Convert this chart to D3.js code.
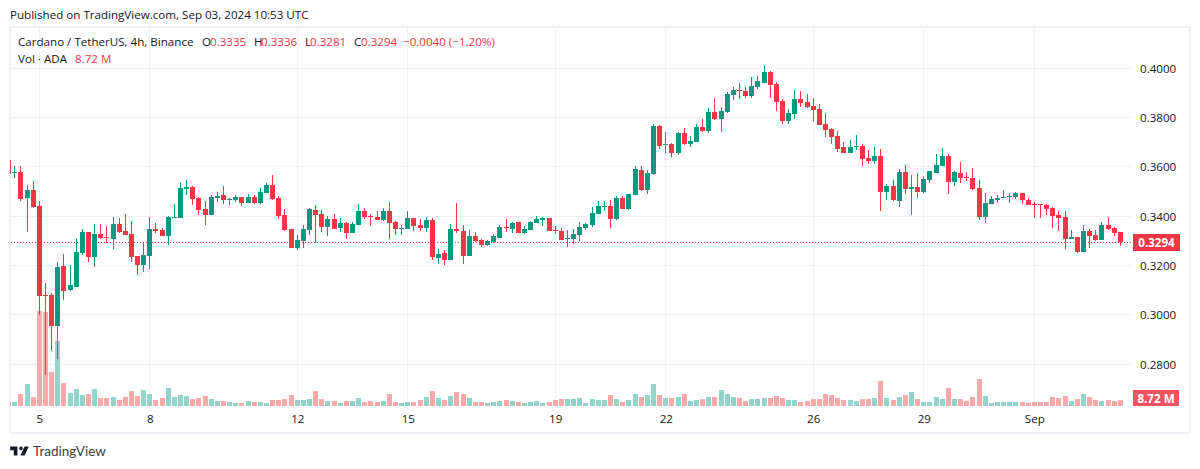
<!DOCTYPE html>
<html><head><meta charset="utf-8">
<script src="https://cdn.jsdelivr.net/npm/d3@7"></script>
<style>html,body{margin:0;padding:0;background:#fff}svg{display:block}text{font-family:"Open Sans","Noto Sans",sans-serif}</style>
</head><body><svg id="c" width="1200" height="469"></svg>
<script>
const firstIndex=-5;
const opens=[.3629,.3576,.3580,.3474,.3507,.3442,.3081,.3081,.2955,.3199,.3101,.3113,.3251,.3337,.3235,.3328,.3316,.3308,.3369,.3341,.3328,.3239,.3203,.3239,.3349,.3345,.3320,.3393,.3393,.3511,.3519,.3474,.3430,.3405,.3474,.3486,.3466,.3466,.3478,.3454,.3478,.3454,.3495,.3527,.3474,.3405,.3349,
.3272,.3300,.3344,.3426,.3409,.3357,.3389,.3353,.3373,.3332,.3365,.3421,.3401,.3397,.3385,.3421,.3377,.3349,.3349,.3393,.3365,.3353,.3385,.3231,.3251,.3223,.3349,.3340,.3239,.3320,.3304,.3284,.3296,.3312,.3357,.3349,.3377,.3332,.3344,.3373,.3385,.3393,.3344,.3340,.3308,.3308,
.3324,.3352,.3365,.3409,.3438,.3442,.3389,.3474,.3430,.3486,.3588,.3507,.3571,.3766,.3689,.3693,.3657,.3738,.3693,.3701,.3762,.3746,.3823,.3794,.3823,.3892,.3912,.3908,.3888,.3924,.3940,.3985,.3936,.3867,.3786,.3815,.3875,.3863,.3847,.3835,.3774,.3754,.3725,.3681,.3657,.3681,
.3685,.3636,.3624,.3644,.3499,.3523,.3462,.3580,.3511,.3519,.3499,.3547,.3576,.3604,.3644,.3539,.3576,.3559,.3555,.3515,.3397,.3450,.3466,.3474,.3478,.3478,.3495,.3466,.3450,.3450,.3446,.3434,.3405,.3397,.3308,.3316,.3255,.3341,.3324,.3304,.3365,.3353,.3335];
const highs=[.3629,.3604,.3604,.3527,.3543,.3462,.3130,.3089,.3215,.3247,.3202,.3308,.3349,.3337,.3369,.3369,.3361,.3397,.3393,.3409,.3381,.3239,.3296,.3397,.3373,.3353,.3401,.3450,.3535,.3547,.3523,.3478,.3462,.3486,.3498,.3523,.3474,.3486,.3478,.3490,.3486,.3515,.3535,.3567,.3482,.3430,.3349,
.3324,.3365,.3434,.3446,.3426,.3401,.3409,.3393,.3377,.3377,.3450,.3434,.3409,.3421,.3434,.3458,.3381,.3365,.3421,.3393,.3389,.3397,.3393,.3267,.3263,.3369,.3454,.3365,.3344,.3336,.3308,.3304,.3328,.3365,.3389,.3377,.3377,.3361,.3381,.3401,.3397,.3393,.3361,.3353,.3344,.3349,
.3377,.3373,.3438,.3462,.3462,.3466,.3482,.3482,.3490,.3604,.3604,.3588,.3774,.3770,.3742,.3697,.3742,.3758,.3725,.3774,.3794,.3839,.3880,.3843,.3904,.3924,.3940,.3924,.3965,.3969,.4013,.3989,.3944,.3875,.3835,.3912,.3908,.3896,.3880,.3855,.3819,.3758,.3746,.3701,.3709,.3730,
.3693,.3669,.3681,.3673,.3531,.3547,.3592,.3608,.3568,.3576,.3563,.3584,.3653,.3677,.3653,.3584,.3620,.3580,.3596,.3547,.3495,.3482,.3486,.3507,.3495,.3499,.3495,.3474,.3458,.3450,.3450,.3438,.3422,.3422,.3345,.3316,.3365,.3349,.3345,.3377,.3397,.3357,.3336];
const lows=[.3572,.3555,.3462,.3337,.3434,.3000,.2757,.2854,.2821,.3061,.3097,.3113,.3243,.3215,.3195,.3308,.3292,.3268,.3332,.3324,.3215,.3162,.3174,.3187,.3332,.3320,.3284,.3393,.3393,.3486,.3446,.3405,.3365,.3405,.3458,.3450,.3446,.3458,.3442,.3454,.3450,.3450,.3495,.3466,.3389,.3341,.3272,
.3264,.3271,.3324,.3292,.3336,.3320,.3349,.3336,.3308,.3332,.3365,.3389,.3361,.3385,.3381,.3308,.3324,.3324,.3349,.3340,.3340,.3336,.3223,.3207,.3203,.3223,.3332,.3207,.3239,.3296,.3276,.3280,.3292,.3312,.3336,.3332,.3332,.3328,.3344,.3373,.3361,.3340,.3328,.3304,.3276,.3288,
.3300,.3344,.3357,.3409,.3421,.3352,.3385,.3430,.3425,.3486,.3503,.3490,.3567,.3673,.3657,.3640,.3649,.3689,.3681,.3701,.3742,.3738,.3790,.3742,.3819,.3871,.3875,.3880,.3880,.3916,.3940,.3880,.3827,.3774,.3774,.3794,.3843,.3839,.3786,.3770,.3721,.3693,.3661,.3657,.3657,.3669,
.3604,.3612,.3612,.3422,.3466,.3462,.3438,.3490,.3405,.3474,.3495,.3535,.3576,.3604,.3490,.3523,.3535,.3543,.3507,.3385,.3373,.3450,.3454,.3474,.3454,.3470,.3450,.3446,.3393,.3393,.3405,.3353,.3340,.3268,.3308,.3251,.3255,.3272,.3300,.3304,.3345,.3320,.3281];
const closes=[.3572,.3580,.3470,.3507,.3438,.3077,.3077,.2955,.3195,.3097,.3122,.3255,.3337,.3235,.3328,.3312,.3312,.3369,.3337,.3324,.3235,.3203,.3243,.3349,.3341,.3320,.3397,.3397,.3515,.3519,.3470,.3426,.3405,.3478,.3482,.3466,.3470,.3478,.3454,.3478,.3454,.3499,.3527,.3470,.3401,.3345,.3272,
.3304,.3349,.3430,.3405,.3357,.3389,.3349,.3373,.3332,.3369,.3421,.3397,.3397,.3385,.3421,.3373,.3349,.3353,.3393,.3361,.3353,.3385,.3235,.3247,.3223,.3349,.3340,.3239,.3320,.3300,.3284,.3300,.3320,.3357,.3353,.3373,.3332,.3349,.3377,.3389,.3393,.3340,.3340,.3304,.3312,.3328,
.3357,.3369,.3413,.3442,.3442,.3389,.3474,.3430,.3490,.3592,.3507,.3575,.3766,.3685,.3693,.3657,.3738,.3693,.3705,.3762,.3746,.3823,.3794,.3827,.3896,.3912,.3908,.3888,.3928,.3948,.3985,.3932,.3863,.3786,.3819,.3875,.3859,.3843,.3831,.3770,.3750,.3721,.3673,.3657,.3681,.3685,
.3632,.3624,.3644,.3499,.3523,.3466,.3580,.3511,.3519,.3499,.3551,.3584,.3608,.3644,.3539,.3580,.3555,.3555,.3511,.3397,.3454,.3470,.3474,.3478,.3482,.3495,.3466,.3446,.3446,.3446,.3430,.3401,.3393,.3308,.3316,.3255,.3341,.3320,.3304,.3365,.3349,.3332,.3294];
const volumes=[6.2,6.2,18.5,33.9,13.9,146,144.7,52.3,100,35.4,20,26.2,16.9,18.5,26.2,12.3,12.3,13.9,9.2,13.9,23.1,15.4,24.6,18.5,9.2,12.3,27.7,13.9,16.9,15.4,10.8,12.3,15.4,10.8,7.7,7.7,6.2,4.6,4.6,7.7,6.2,6.2,4.6,9.2,9.2,10.8,16.9,9.2,
9.2,10.8,23.1,10.8,7.7,7.7,4.6,7.7,7.7,12.3,6.2,7.7,6.2,7.7,18.5,6.2,4.6,6.2,6.2,9.2,13.9,23.1,12.3,9.2,15.4,21.5,18.5,12.3,6.2,6.2,4.6,6.2,7.7,9.2,7.7,6.2,4.6,6.2,7.7,4.6,6.2,9.2,10.8,10.8,10.8,12.3,4.6,10.8,9.2,9.2,16.9,10.8,6.2,9.2,18.5,13.9,16.9,33.9,16.9,12.3,12.3,13.9,18.5,7.7,9.2,10.8,13.9,13.9,24.6,18.5,13.9,12.3,7.7,
10.8,10.8,12.3,12.3,15.4,12.3,9.2,9.2,6.2,7.7,10.8,10.8,18.5,16.9,12.3,9.2,9.2,7.7,10.8,10.8,12.3,38.5,12.3,9.2,13.9,16.9,21.5,10.8,6.2,6.2,13.9,10.8,27.7,10.8,10.8,7.7,13.9,41.6,15.4,4.6,6.2,6.2,6.2,6.2,6.2,4.6,6.2,6.2,6.2,13.9,12.3,15.4,7.7,10.8,18.5,13.9,9.2,7.7,9.2,7.7,8.72];
const priceTicks=[0.28,0.30,0.32,0.34,0.36,0.38,0.40];
const timeTickIndex=[0,18,42,60,84,102,126,144,162];
const timeTickLabels=["5","8","12","15","19","22","26","29","Sep"];
const legendMain="Cardano / TetherUS, 4h, Binance";
const ohlcLabels=["O","H","L","C"];
const ohlcValues=["0.3335","0.3336","0.3281","0.3294"];
const lastPrice=0.3294, lastVolume=8.72;
const UP="#089981",DOWN="#F23645",UPV="#92d3ca",DOWNV="#f9a9a9",GRID="#f1f2f5",FRAME="#eff1f7",INK="#131722",FS=11.6;
const FF='"Open Sans","Noto Sans",sans-serif';

const svg=d3.select("#c");
const x=d3.scaleLinear().domain([0,176]).range([39.3,1120.3]);
const y=d3.scaleLinear().domain([0.28,0.40]).range([364.3,68.3]);
const v=d3.scaleLinear().domain([0,146]).range([406,311]);
const data=opens.map((o,k)=>({i:k+firstIndex,o,h:highs[k],l:lows[k],c:closes[k],v:volumes[k]}));
const px=i=>Math.floor(x(i));
const py=p=>Math.round(y(p));

svg.append("defs").append("clipPath").attr("id","pane").append("rect").attr("x",10).attr("y",28).attr("width",1122).attr("height",379);
svg.append("text").attr("x",10).attr("y",19).attr("font-size",FS).attr("fill",INK).text("Published on TradingView.com, Sep 03, 2024 10:53 UTC");
svg.append("rect").attr("x",10).attr("y",27).attr("width",1180).attr("height",406).attr("fill","none").attr("stroke",FRAME).attr("stroke-width",2);

// grid drawn by axes, snapped to whole pixels
const gridY=svg.append("g").attr("transform","translate(11,0)").call(d3.axisRight(y).tickValues(priceTicks).tickSize(1121).tickFormat(""));
gridY.select(".domain").remove();gridY.selectAll(".tick").attr("transform",d=>`translate(0,${Math.floor(y(d))+.5})`);gridY.selectAll("line").attr("stroke",GRID);
const gridX=svg.append("g").attr("transform","translate(0,407)").call(d3.axisTop(x).tickValues(timeTickIndex).tickSize(379).tickFormat(""));
gridX.select(".domain").remove();gridX.selectAll(".tick").attr("transform",d=>`translate(${px(d)+.5},0)`);gridX.selectAll("line").attr("stroke",GRID);

const pane=svg.append("g").attr("clip-path","url(#pane)");
pane.selectAll(".vol").data(data).join("rect").attr("class","vol")
 .attr("x",d=>px(d.i)-2).attr("width",5).attr("y",d=>Math.round(v(d.v))).attr("height",d=>406-Math.round(v(d.v)))
 .attr("fill",d=>d.c>=d.o?UPV:DOWNV);
const ly=Math.floor(y(lastPrice))+.5;
pane.append("line").attr("x1",11).attr("x2",1132).attr("y1",ly).attr("y2",ly).attr("stroke",DOWN).attr("stroke-dasharray","1 2").attr("stroke-width",1);
pane.selectAll(".wick").data(data).join("rect").attr("class","wick")
 .attr("x",d=>px(d.i)).attr("width",1).attr("y",d=>py(d.h)).attr("height",d=>Math.max(1,py(d.l)-py(d.h)))
 .attr("fill",d=>d.c>=d.o?UP:DOWN);
pane.selectAll(".body").data(data).join("rect").attr("class","body")
 .attr("x",d=>px(d.i)-2).attr("width",5).attr("y",d=>py(Math.max(d.o,d.c))).attr("height",d=>Math.max(1,py(Math.min(d.o,d.c))-py(Math.max(d.o,d.c))))
 .attr("fill",d=>d.c>=d.o?UP:DOWN);

// axes
const ay=svg.append("g").attr("transform","translate(1140,0)").call(d3.axisRight(y).tickValues(priceTicks).tickSize(0).tickPadding(0).tickFormat(d3.format(".4f")));
ay.select(".domain").remove();ay.selectAll("text").attr("font-size",FS).attr("fill",INK).style("font-family",FF);
const ax=svg.append("g").attr("transform","translate(0,407)").call(d3.axisBottom(x).tickValues(timeTickIndex).tickSize(0).tickPadding(8).tickFormat((d,k)=>timeTickLabels[k]));
ax.select(".domain").remove();ax.selectAll("text").attr("font-size",FS).attr("fill",INK).style("font-family",FF);

// legend
svg.append("text").attr("x",18).attr("y",46).attr("font-size",FS).attr("fill",INK).text(legendMain);
const lx=[202,254,305,354],vx=[210,261,310,361];
ohlcLabels.forEach((t,k)=>{svg.append("text").attr("x",lx[k]).attr("y",46).attr("font-size",FS).attr("fill",INK).text(t);
 svg.append("text").attr("x",vx[k]).attr("y",46).attr("font-size",FS).attr("fill",DOWN).text(ohlcValues[k]);});
svg.append("text").attr("x",403).attr("y",46).attr("font-size",FS).attr("fill",DOWN).text("−0.0040 (−1.20%)");
svg.append("text").attr("x",18).attr("y",63).attr("font-size",FS).attr("fill",INK).text("Vol · ADA");
svg.append("text").attr("x",75).attr("y",63).attr("font-size",FS).attr("fill",DOWN).text(d3.format(".2f")(lastVolume)+" M");

// tags
svg.append("rect").attr("x",1133).attr("y",234).attr("width",47).attr("height",17).attr("fill",DOWN);
svg.append("text").attr("x",1156.5).attr("y",247).attr("text-anchor","middle").attr("font-size",FS).attr("font-weight",700).attr("fill","#fff").text(d3.format(".4f")(lastPrice));
svg.append("rect").attr("x",1133).attr("y",390).attr("width",46).attr("height",16).attr("fill","#F7525F");
svg.append("text").attr("x",1156).attr("y",403).attr("text-anchor","middle").attr("font-size",FS).attr("font-weight",700).attr("fill","#fff").text(d3.format(".2f")(lastVolume)+" M");

// logo
svg.append("path").attr("transform","translate(9,443) scale(.6)").attr("fill",INK).attr("d","M14 6H2v6h6v9h6V6Zm12 15h-7l7-15h7l-7 15Zm-6-9a3 3 0 1 0 0-6 3 3 0 0 0 0 6Z");
svg.append("text").attr("x",33).attr("y",456).attr("font-size",13.5).attr("fill","#3a3e4a").style("font-family","Lato").text("TradingView");
</script></body></html>
